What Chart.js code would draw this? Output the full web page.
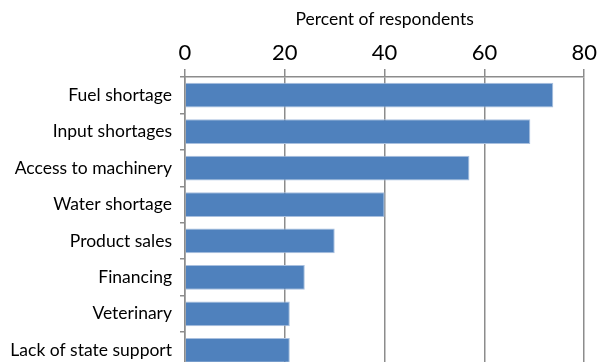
<!DOCTYPE html>
<html>
<head>
<meta charset="utf-8">
<script src="https://cdn.jsdelivr.net/npm/chart.js@4"></script>
<style>
  html, body { margin: 0; padding: 0; background: #fff; overflow: hidden; }
  canvas { display: block; }
</style>
</head>
<body>
<canvas id="myChart" width="600" height="387"></canvas>
<script>
const categories = [
    'Fuel shortage',
    'Input shortages',
    'Access to machinery',
    'Water shortage',
    'Product sales',
    'Financing',
    'Veterinary',
    'Lack of state support'
]
const percents = [73.8, 69.2, 57, 40, 30, 24, 21, 21]
const xTicks = [0, 20, 40, 60, 80]

const font = 'Lato, "Liberation Sans", sans-serif'
const gridColor = '#8c8c8c'

const ctx = document.getElementById('myChart')

new Chart(ctx, {
    type: 'bar',
    data: {
        labels: categories,
        datasets: [{
            label: 'Percent of respondents',
            data: percents,
            backgroundColor: '#4f81bd',
            borderColor: '#a9c0df',
            borderWidth: 1,
            barPercentage: 0.68,
            categoryPercentage: 1
        }]
    },
    options: {
        indexAxis: 'y',
        responsive: false,
        animation: false,
        layout: { padding: { left: 0, right: 0, top: 0, bottom: 7 } },
        plugins: {
            legend: { display: false },
            tooltip: { enabled: false }
        },
        scales: {
            x: {
                position: 'top',
                min: xTicks[0],
                max: xTicks[xTicks.length - 1],
                afterBuildTicks: (scale) => {
                    scale.ticks = xTicks.map(v => ({ value: v }))
                },
                afterFit: (scale) => { scale.height = 77 },
                ticks: {
                    color: '#000',
                    font: { family: font, size: 22 },
                    padding: 3,
                    maxRotation: 0
                },
                grid: {
                    color: gridColor,
                    lineWidth: 1.5,
                    tickLength: 8
                },
                border: { color: gridColor, width: 1.5 },
                title: {
                    display: true,
                    text: 'Percent of respondents',
                    color: '#000',
                    font: { family: font, size: 17.5 },
                    padding: { top: 9, bottom: 0 }
                }
            },
            y: {
                afterFit: (scale) => { scale.width = 185 },
                ticks: {
                    color: '#000',
                    font: { family: font, size: 17.5 },
                    padding: 8
                },
                grid: {
                    offset: true,
                    drawOnChartArea: false,
                    color: gridColor,
                    lineWidth: 1.5,
                    tickLength: 5
                },
                border: { color: gridColor, width: 1.5 }
            }
        }
    }
})
</script>
</body>
</html>
